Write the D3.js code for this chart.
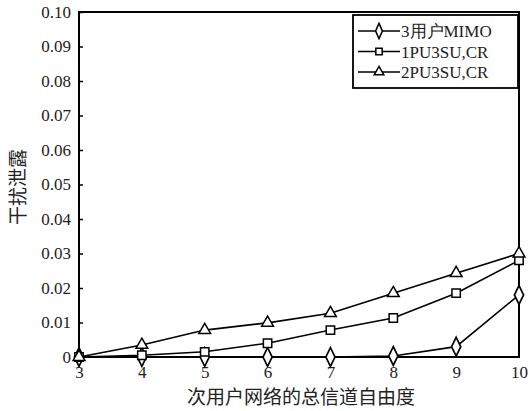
<!DOCTYPE html>
<html>
<head>
<meta charset="utf-8">
<script src="https://cdn.jsdelivr.net/npm/d3@7"></script>
<style>
body { margin: 0; background: #fff; }
svg { display: block; }
</style>
</head>
<body>
<svg width="528" height="411"></svg>
<script>
// data
var dof = [3, 4, 5, 6, 7, 8, 9, 10];
var mimo = [0, 0, 0, 0, 0, 0.0003, 0.003, 0.018];
var pu1 = [0, 0.0005, 0.0015, 0.004, 0.0078, 0.0113, 0.0185, 0.028];
var pu2 = [0, 0.0035, 0.0078, 0.0099, 0.0127, 0.0185, 0.0243, 0.030];
var yTicks = [0, 0.01, 0.02, 0.03, 0.04, 0.05, 0.06, 0.07, 0.08, 0.09, 0.10];
var seriesNames = ["3用户MIMO", "1PU3SU,CR", "2PU3SU,CR"];
var seriesShapes = ["diamond", "square", "triangle"];

var svg = d3.select("svg");
var plotL = 79, plotR = 519, plotT = 12, plotB = 357;

var x = d3.scaleLinear().domain([3, 10]).range([plotL, plotR]);
var y = d3.scaleLinear().domain([0, 0.1]).range([plotB, plotT]);

var serif = "'Liberation Serif', 'DejaVu Serif', serif";
var cjk = "'Noto Sans CJK SC', sans-serif";

// frame
svg.append("rect")
	.attr("x", plotL).attr("y", plotT)
	.attr("width", plotR - plotL).attr("height", plotB - plotT)
	.attr("fill", "none").attr("stroke", "#000").attr("stroke-width", 2);

// y axis ticks pointing inward
var yAxis = d3.axisLeft(y).tickValues(yTicks).tickSize(-4).tickPadding(8)
	.tickFormat(function(d){ return d === 0 ? "0" : d3.format(".2f")(d); });
var gy = svg.append("g").attr("transform", "translate(" + plotL + ",0)").call(yAxis);
gy.select(".domain").remove();
gy.selectAll("line").attr("stroke-width", 1.5);
gy.selectAll("text").attr("font-family", serif).attr("font-size", 17).attr("fill", "#222");

var xAxis = d3.axisBottom(x).tickValues(dof).tickSize(0).tickPadding(9).tickFormat(d3.format("d"));
var gx = svg.append("g").attr("transform", "translate(0," + plotB + ")").call(xAxis);
gx.select(".domain").remove();
gx.selectAll("text").attr("font-family", serif).attr("font-size", 17).attr("fill", "#222");

// axis titles
svg.append("text")
	.attr("x", 301).attr("y", 404)
	.attr("text-anchor", "middle")
	.attr("font-family", cjk).attr("font-size", 19).attr("fill", "#222")
	.text("次用户网络的总信道自由度");

svg.append("text")
	.attr("transform", "translate(25,187) rotate(-90)")
	.attr("text-anchor", "middle")
	.attr("font-family", cjk).attr("font-size", 19).attr("fill", "#222")
	.text("干扰泄露");

var symbolFor = {
	diamond: d3.symbol().type(d3.symbolDiamond).size(60),
	square: d3.symbol().type(d3.symbolSquare).size(70),
	triangle: d3.symbol().type(d3.symbolTriangle).size(60)
};

var line = d3.line()
	.x(function(d){ return x(d[0]); })
	.y(function(d){ return y(d[1]); });

var allSeries = [mimo, pu1, pu2];

allSeries.forEach(function(vals, i){
	var pts = dof.map(function(d, j){ return [d, vals[j]]; });
	svg.append("path")
		.datum(pts)
		.attr("d", line)
		.attr("fill", "none")
		.attr("stroke", "#000")
		.attr("stroke-width", 1.6);
});

allSeries.forEach(function(vals, i){
	var pts = dof.map(function(d, j){ return [d, vals[j]]; });
	svg.selectAll(".m" + i)
		.data(pts)
		.enter().append("path")
		.attr("class", "m" + i)
		.attr("d", symbolFor[seriesShapes[i]])
		.attr("transform", function(d){
			var sy = seriesShapes[i] === "diamond" ? "scale(1.1,1.3)" : "";
			return "translate(" + x(d[0]) + "," + y(d[1]) + ")" + sy;
		})
		.attr("fill", "#fff")
		.attr("stroke", "#000")
		.attr("stroke-width", 1.5);
});

// legend
var lg = svg.append("g");
lg.append("rect")
	.attr("x", 353).attr("y", 15)
	.attr("width", 165).attr("height", 73)
	.attr("fill", "#fff").attr("stroke", "#000").attr("stroke-width", 1.8);

var legendSym = d3.symbol().size(40);
seriesNames.forEach(function(name, i){
	var ly = 31 + i * 20.5;
	lg.append("line")
		.attr("x1", 358).attr("x2", 400)
		.attr("y1", ly).attr("y2", ly)
		.attr("stroke", "#000").attr("stroke-width", 1.6);
	var sy = seriesShapes[i] === "diamond" ? "scale(1,1.3)" : "";
	lg.append("path")
		.attr("d", symbolFor[seriesShapes[i]].size(40)())
		.attr("transform", "translate(379," + ly + ")" + sy)
		.attr("fill", "#fff").attr("stroke", "#000").attr("stroke-width", 1.5);
	lg.append("text")
		.attr("x", 401).attr("y", ly + 6)
		.attr("font-family", serif).attr("font-size", 17).attr("fill", "#222")
		.text(name);
});
</script>
</body>
</html>
